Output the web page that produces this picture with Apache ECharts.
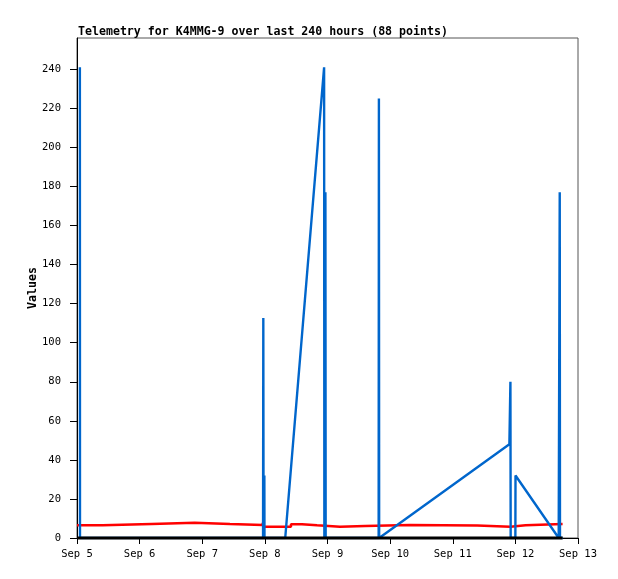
<!DOCTYPE html>
<html>
<head>
<meta charset="utf-8">
<script src="https://cdn.jsdelivr.net/npm/echarts@6/dist/echarts.min.js"></script>
<style>
html,body{margin:0;padding:0;background:#fff;}
#c{width:618px;height:579px;}
</style>
</head>
<body>
<div id="c"></div>
<script>
// hours since Sep 5 00:00
var dayLabels = ['Sep 5','Sep 6','Sep 7','Sep 8','Sep 9','Sep 10','Sep 11','Sep 12','Sep 13'];
var yTicks = [0,20,40,60,80,100,120,140,160,180,200,220,240];

var blueHours  = [1.1, 1.15, 71.3, 71.4, 71.5, 71.8, 71.85, 79.8, 94.7, 94.8, 95.2, 95.3, 115.6, 115.7, 115.8, 165.7, 166.1, 166.2, 168.0, 168.05, 184.6, 185.0, 185.1, 186.1];
var blueValues = [241,  0,    0,    112.6, 0,   32,   0,     0,    241,  0,    177,  0,    0,     225,   0,     48,    80,    0,     0,     32,     0,     177,   0,     0];

// step segments: value holds from redHours[i] to redHours[i+1]
var redHours  = [0, 9.8, 28.6, 45.1, 58.6, 71.2, 71.8, 82.0, 86.2, 92.0, 100.8, 110.4, 127.7, 153.4, 166.1, 171.9, 186.1];
var redValues = [6.5, 7.2, 7.8, 7.2, 6.7, 7.8, 5.7, 7.0, 6.5, 5.8, 6.2, 6.7, 6.4, 5.8, 6.5, 7.2, 7.2];

var blackHours  = [0, 186.1];
var blackValues = [0, 0];

function pairs(xs, ys){ return xs.map(function(x,i){ return [x, ys[i]]; }); }
function stepPairs(xs, ys){
  var out = [];
  for (var i = 0; i < xs.length - 1; i++) {
    out.push([xs[i], ys[i]]);
    out.push([xs[i+1], ys[i]]);
  }
  return out;
}

var chart = echarts.init(document.getElementById('c'), null, {renderer:'canvas'});
var mono = '"DejaVu Sans Mono", "Liberation Mono", monospace';
chart.setOption({
  animation: false,
  backgroundColor: '#fff',
  title: {
    text: 'Telemetry for K4MMG-9 over last 240 hours (88 points)',
    left: 73, top: 21,
    textStyle: {fontFamily: mono, fontWeight: 'bold', fontSize: 11.6, color: '#000'}
  },
  grid: {left: 77, right: 40, top: 38, bottom: 41, show: true, borderColor: '#555', borderWidth: 1, backgroundColor: 'transparent'},
  xAxis: {
    type: 'value', min: 0, max: 192, interval: 24,
    axisLine: {show: true, onZero: false, lineStyle: {color: '#000', width: 1}},
    axisTick: {show: true, inside: false, length: 6, lineStyle: {color: '#000'}},
    axisLabel: {margin: 11, fontFamily: mono, fontSize: 10.5, color: '#000',
      formatter: function(v){ return dayLabels[Math.round(v/24)]; }},
    splitLine: {show: false}
  },
  yAxis: {
    type: 'value', min: 0, max: 256, interval: 20,
    name: 'Values', nameLocation: 'middle', nameGap: 38, nameRotate: 90, nameMoveOverlap: false,
    nameTextStyle: {fontFamily: mono, fontWeight: 'bold', fontSize: 11.6, color: '#000'},
    axisLine: {show: true, lineStyle: {color: '#000', width: 1}},
    axisTick: {show: true, inside: false, length: 7, lineStyle: {color: '#000'}, customValues: yTicks},
    axisLabel: {margin: 16, fontFamily: mono, fontSize: 10.5, color: '#000', customValues: yTicks},
    splitLine: {show: false}
  },
  series: [
    {type: 'line', data: stepPairs(redHours, redValues), showSymbol: false, symbol: 'none',
     lineStyle: {color: '#ff0000', width: 2.5}, z: 2},
    {type: 'line', data: pairs(blueHours, blueValues), showSymbol: false, symbol: 'none',
     lineStyle: {color: '#0066cc', width: 2.4}, z: 3},
    {type: 'line', data: pairs(blackHours, blackValues), showSymbol: false, symbol: 'none', clip: false,
     lineStyle: {color: '#000', width: 3}, z: 5}
  ]
});
</script>
</body>
</html>
